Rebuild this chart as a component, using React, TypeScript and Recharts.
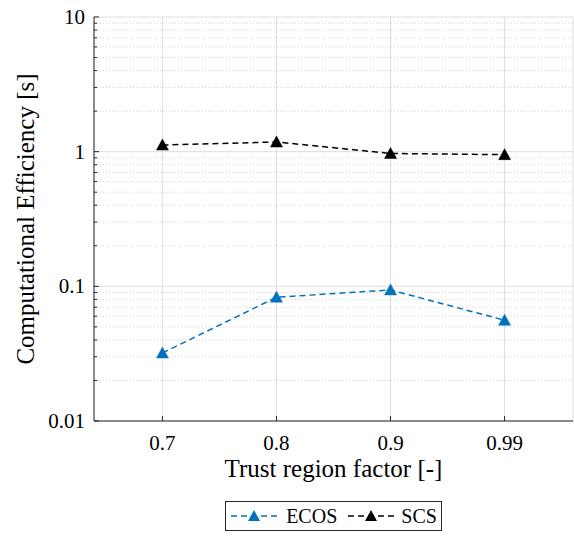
import React from "react"
import { LineChart, Line, XAxis, YAxis, CartesianGrid, ReferenceLine, Legend } from "recharts"

const categories = ["0.7", "0.8", "0.9", "0.99"]
const ecosTimes = [0.032, 0.083, 0.094, 0.056]
const scsTimes = [1.12, 1.18, 0.97, 0.95]

const majorTicks = [0.01, 0.1, 1, 10]
const minorTicks = [
  0.02, 0.03, 0.04, 0.05, 0.06, 0.07, 0.08, 0.09,
  0.2, 0.3, 0.4, 0.5, 0.6, 0.7, 0.8, 0.9,
  2, 3, 4, 5, 6, 7, 8, 9,
]
const xPositions = [1, 2, 3, 4]

const data = categories.map((c, i) => ({
  x: xPositions[i],
  label: c,
  ecos: ecosTimes[i],
  scs: scsTimes[i],
}))

const FONT = "'Liberation Serif', serif"
const AXIS = "#262626"
const BLUE = "#0072BD"

const fmtY = (v: number) => (v === 10 ? "10" : v === 1 ? "1" : String(v))

const Triangle = ({ cx, cy, color }: { cx?: number; cy?: number; color: string }) => {
  if (cx == null || cy == null) return null
  return <polygon points={`${cx},${cy - 6} ${cx - 6},${cy + 5} ${cx + 6},${cy + 5}`} fill={color} stroke={color} strokeWidth={0.5} />
}

const BottomTick = (p: any) => {
  const { x, y, payload } = p
  const label = categories[xPositions.indexOf(payload.value)]
  return (
    <g>
      <line x1={x} y1={y} x2={x} y2={y - 5} stroke={AXIS} strokeWidth={1} />
      <text x={x} y={y + 29} textAnchor="middle" style={{ fontFamily: FONT }} fontSize={21} fill="#000">{label}</text>
    </g>
  )
}

const TopTick = (p: any) => {
  const { x, y } = p
  return <line x1={x} y1={y} x2={x} y2={y + 5} stroke={AXIS} strokeWidth={1} />
}

const LeftTick = (p: any) => {
  const { x, y, payload } = p
  const major = majorTicks.includes(payload.value)
  return (
    <g>
      <line x1={x} y1={y} x2={x + (major ? 5 : 3)} y2={y} stroke={AXIS} strokeWidth={1} />
      {major && (
        <text x={x - 9} y={y + 7} textAnchor="end" style={{ fontFamily: FONT }} fontSize={21} fill="#000">{fmtY(payload.value)}</text>
      )}
    </g>
  )
}

const RightTick = (p: any) => {
  const { x, y, payload } = p
  const major = majorTicks.includes(payload.value)
  return <line x1={x} y1={y} x2={x - (major ? 5 : 3)} y2={y} stroke={AXIS} strokeWidth={1} />
}

const LegendSample = ({ color }: { color: string }) => (
  <svg width={48} height={14} style={{ display: "block" }}>
    <line x1={1} y1={7} x2={47} y2={7} stroke={color} strokeWidth={1.5} strokeDasharray="6 4" />
    <polygon points="24,1 18,12 30,12" fill={color} />
  </svg>
)

const LegendBox = () => (
  <div style={{ display: "flex", justifyContent: "center" }}>
    <div
      style={{
        display: "flex",
        alignItems: "center",
        height: 30,
        boxSizing: "border-box",
        border: "1px solid #262626",
        background: "#fff",
        padding: "0 4px",
        fontFamily: FONT,
        fontSize: 20,
        color: "#000",
      }}
    >
      <LegendSample color={BLUE} />
      <span style={{ margin: "0 10px 0 8px" }}>ECOS</span>
      <LegendSample color="#000" />
      <span style={{ marginLeft: 6 }}>SCS</span>
    </div>
  </div>
)

export default function App() {
  return (
    <div style={{ position: "absolute", left: 0, top: 0, background: "#fff", fontFamily: FONT }}>
      <LineChart width={574} height={537} data={data} margin={{ top: 17, right: 1, bottom: 16, left: 0 }} style={{ fontFamily: FONT }}>
        <CartesianGrid horizontal={false} stroke="#dedede" />
        {minorTicks.map((v) => (
          <ReferenceLine key={"m" + v} y={v} stroke="#d4d4d4" strokeDasharray="1 2" />
        ))}
        {majorTicks.map((v) => (
          <ReferenceLine key={"M" + v} y={v} stroke="#dedede" />
        ))}
        <XAxis
          dataKey="x"
          type="number"
          domain={[0.4, 4.6]}
          ticks={xPositions}
          allowDataOverflow
          height={70}
          tickSize={0}
          tickMargin={0}
          tickLine={false}
          tick={<BottomTick />}
          axisLine={{ stroke: AXIS, strokeWidth: 1 }}
          label={{ value: "Trust region factor [-]", position: "insideBottom", offset: 14, fontSize: 25, fill: "#000", style: { fontFamily: FONT } }}
        />
        <XAxis
          xAxisId="top"
          orientation="top"
          dataKey="x"
          type="number"
          domain={[0.4, 4.6]}
          ticks={xPositions}
          allowDataOverflow
          height={0}
          tickSize={0}
          tickMargin={0}
          tickLine={false}
          tick={<TopTick />}
          axisLine={{ stroke: AXIS, strokeWidth: 1 }}
        />
        <YAxis
          scale="log"
          type="number"
          domain={[0.01, 10]}
          ticks={[...majorTicks, ...minorTicks]}
          allowDataOverflow
          interval={0}
          width={94}
          tickSize={0}
          tickMargin={0}
          tickLine={false}
          tick={<LeftTick />}
          axisLine={{ stroke: AXIS, strokeWidth: 1 }}
          label={{ value: "Computational Efficiency [s]", angle: -90, position: "insideLeft", offset: 25, fontSize: 25, fill: "#000", style: { textAnchor: "middle", fontFamily: FONT } }}
        />
        <YAxis
          yAxisId="right"
          orientation="right"
          scale="log"
          type="number"
          domain={[0.01, 10]}
          ticks={[...majorTicks, ...minorTicks]}
          allowDataOverflow
          interval={0}
          width={0}
          tickSize={0}
          tickMargin={0}
          tickLine={false}
          tick={<RightTick />}
          axisLine={{ stroke: AXIS, strokeWidth: 1 }}
        />
        <Line
          dataKey="ecos"
          name="ECOS"
          stroke={BLUE}
          strokeWidth={1.5}
          strokeDasharray="6 4"
          dot={(p: any) => <Triangle key={"e" + p.index} cx={p.cx} cy={p.cy} color={BLUE} />}
          isAnimationActive={false}
        />
        <Line
          dataKey="scs"
          name="SCS"
          stroke="#000"
          strokeWidth={1.5}
          strokeDasharray="6 4"
          dot={(p: any) => <Triangle key={"s" + p.index} cx={p.cx} cy={p.cy} color="#000" />}
          isAnimationActive={false}
        />
        <Legend content={<LegendBox />} wrapperStyle={{ left: 94, width: 479, bottom: 6 }} />
      </LineChart>
    </div>
  )
}
